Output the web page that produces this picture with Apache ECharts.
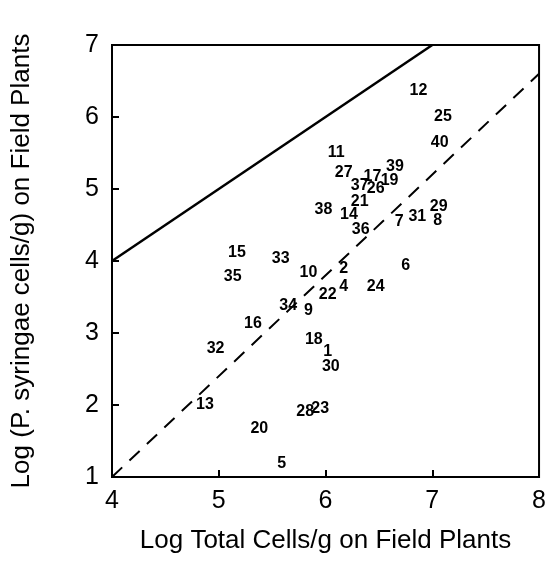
<!DOCTYPE html>
<html>
<head>
<meta charset="utf-8">
<script src="https://cdn.jsdelivr.net/npm/echarts@6/dist/echarts.min.js"></script>
<style>
  html, body { margin: 0; padding: 0; background: #fff; }
  #chart { width: 549px; height: 561px; }
</style>
</head>
<body>
<div id="chart"></div>
<script>
// plant sample ids and their log values
var sampleIds = ['12', '25', '40', '11', '27', '39', '17', '19', '37', '26',
  '21', '38', '14', '29', '31', '8', '7', '36', '15', '33',
  '10', '2', '6', '35', '4', '22', '24', '34', '9', '16',
  '18', '32', '1', '30', '13', '28', '23', '20', '5'];
var logTotal = [6.87, 7.10, 7.07, 6.10, 6.17, 6.65, 6.44, 6.60, 6.32, 6.47,
  6.32, 5.98, 6.22, 7.06, 6.86, 7.05, 6.69, 6.33, 5.17, 5.58,
  5.84, 6.17, 6.75, 5.13, 6.17, 6.02, 6.47, 5.65, 5.84, 5.32,
  5.89, 4.97, 6.02, 6.05, 4.87, 5.81, 5.95, 5.38, 5.59];
var logSyringae = [6.37, 6.00, 5.65, 5.50, 5.23, 5.31, 5.17, 5.12, 5.05, 5.00,
  4.82, 4.72, 4.65, 4.75, 4.62, 4.56, 4.55, 4.44, 4.11, 4.03,
  3.84, 3.89, 3.93, 3.79, 3.65, 3.54, 3.65, 3.38, 3.31, 3.125,
  2.91, 2.79, 2.74, 2.54, 2.01, 1.91, 1.95, 1.67, 1.19];

// reference lines
var solidLine = [[4, 4], [7, 7]];
var dashedLine = [[4, 1], [8, 6.6]];

var xTicks = [4, 5, 6, 7, 8];
var yTicks = [1, 2, 3, 4, 5, 6, 7];

var points = [];
for (var i = 0; i < sampleIds.length; i++) {
  points.push([logTotal[i], logSyringae[i], sampleIds[i]]);
}

var myChart = echarts.init(document.getElementById('chart'));

var option = {
  backgroundColor: '#fff',
  animation: false,
  grid: {
    left: 112, right: 6, top: 45, bottom: 84,
    show: true, borderColor: '#000', borderWidth: 2
  },
  xAxis: {
    type: 'value',
    min: xTicks[0], max: xTicks[xTicks.length - 1], interval: 1,
    name: 'Log Total Cells/g on Field Plants',
    nameLocation: 'middle', nameGap: 51,
    nameTextStyle: { fontFamily: 'Liberation Sans', fontSize: 26, color: '#000' },
    axisLine: { lineStyle: { color: '#000', width: 2 } },
    axisTick: { inside: true, length: 7, lineStyle: { color: '#000', width: 2 } },
    axisLabel: { fontFamily: 'Liberation Sans', fontSize: 25, color: '#000', margin: 12 },
    splitLine: { show: false }
  },
  yAxis: {
    type: 'value',
    min: yTicks[0], max: yTicks[yTicks.length - 1], interval: 1,
    name: 'Log (P. syringae cells/g) on Field Plants',
    nameLocation: 'middle', nameGap: 77,
    nameTextStyle: { fontFamily: 'Liberation Sans', fontSize: 26, color: '#000' },
    axisLine: { lineStyle: { color: '#000', width: 2 } },
    axisTick: { inside: true, length: 7, lineStyle: { color: '#000', width: 2 } },
    axisLabel: { fontFamily: 'Liberation Sans', fontSize: 25, color: '#000', margin: 13 },
    splitLine: { show: false }
  },
  series: [
    {
      type: 'line',
      data: solidLine,
      symbol: 'none',
      lineStyle: { color: '#000', width: 2.5 }
    },
    {
      type: 'line',
      data: dashedLine,
      symbol: 'none',
      lineStyle: { color: '#000', width: 2, type: [14, 10] }
    },
    {
      type: 'scatter',
      data: points,
      symbolSize: 2,
      itemStyle: { color: 'rgba(0,0,0,0)', opacity: 1 },
      label: {
        show: true,
        position: 'inside',
        formatter: function (p) { return p.value[2]; },
        fontFamily: 'Liberation Sans',
        fontWeight: 'bold',
        fontSize: 16,
        color: '#000',
        opacity: 1
      }
    }
  ]
};

myChart.setOption(option);
</script>
</body>
</html>
